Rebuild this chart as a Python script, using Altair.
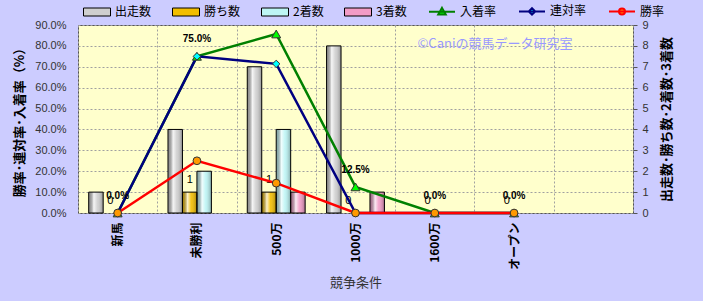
import altair as alt
import pandas as pd

# ---------------- data ----------------
categories = ["新馬", "未勝利", "500万", "1000万", "1600万", "オープン"]
x_domain = categories + [" "]
bar_series = ["出走数", "勝ち数", "2着数", "3着数"]
line_series = ["入着率", "連対率", "勝率"]
runs = [1, 4, 7, 8, 0, 0]
wins = [0, 1, 1, 0, 0, 0]
seconds = [0, 2, 4, 0, 0, 0]
thirds = [0, 0, 1, 1, 0, 0]
place_rate = [0.0, 0.75, 0.857, 0.125, 0.0, 0.0]
quinella_rate = [0.0, 0.75, 0.714, 0.0, 0.0, 0.0]
win_rate = [0.0, 0.25, 0.143, 0.0, 0.0, 0.0]
place_labels = ["0.0%", "75.0%", "", "12.5%", "0.0%", "0.0%"]
win_labels = ["0", "1", "1", "0", "0", "0"]
left_ticks = [0.0, 0.1, 0.2, 0.3, 0.4, 0.5, 0.6, 0.7, 0.8, 0.9]
right_ticks = [0, 1, 2, 3, 4, 5, 6, 7, 8, 9]
watermark = ["©Caniの競馬データ研究室"]

bars_df = pd.DataFrame(
    [{"category": c, "series": s, "count": v}
     for s, vals in zip(bar_series, [runs, wins, seconds, thirds])
     for c, v in zip(categories, vals)]
)
rates_df = pd.DataFrame(
    [{"category": c, "series": s, "rate": v}
     for s, vals in zip(line_series, [place_rate, quinella_rate, win_rate])
     for c, v in zip(categories, vals)]
)
place_lab_df = pd.DataFrame({"category": categories, "rate": place_rate, "label": place_labels})
win_lab_df = pd.DataFrame({"category": categories, "series": "勝ち数", "count": wins, "label": win_labels})
wm_df = pd.DataFrame({"t": watermark})

# ---------------- styles ----------------
FONT = "Liberation Sans, Noto Sans CJK JP"
JFONT = "Noto Sans CJK JP"
bar_fill = ["#CFCFCF", "#F2BE00", "#BDF5F5", "#F29CC6"]
line_colors = ["#008000", "#000080", "#FF0000"]
marker_fill = ["#00FF00", "#00FFFF", "#FF9900"]
marker_shape = ["triangle-up", "diamond", "circle"]
marker_size = [80, 55, 60]

rect_p = "M-2.7,-0.8H2.7V0.8H-2.7Z"
tri_p = "M-2.6,0H2.6M0,-0.75L0.75,0.55L-0.75,0.55Z"
dia_p = "M-2.6,0H2.6M0,-0.65L0.65,0L0,0.65L-0.65,0Z"
cir_p = "M-2.6,0H2.6M-0.6,0A0.6,0.6,0,1,0,0.6,0A0.6,0.6,0,1,0,-0.6,0Z"

shape_expr = ("datum.value === '入着率' ? '%s' : datum.value === '連対率' ? '%s' : "
              "datum.value === '勝率' ? '%s' : '%s'" % (tri_p, dia_p, cir_p, rect_p))
stroke_expr = ("datum.value === '入着率' ? '%s' : datum.value === '連対率' ? '%s' : "
               "datum.value === '勝率' ? '%s' : '#000000'" % tuple(line_colors))
sw_expr = "indexof(['入着率','連対率','勝率'], datum.value) >= 0 ? 2 : 1"

legend_def = alt.Legend(
    orient="none", legendX=13, legendY=-20, direction="horizontal", columns=7,
    title=None, symbolSize=100, labelOffset=12, columnPadding=18, padding=0,
    labelFontSize=12, labelFont=JFONT, labelColor="#000000",
    symbolType=alt.ExprRef(expr=shape_expr),
    symbolStrokeColor=alt.ExprRef(expr=stroke_expr),
    symbolStrokeWidth=alt.ExprRef(expr=sw_expr),
    symbolOpacity=1,
)

x_axis = alt.Axis(
    title="競争条件", titleFont=JFONT, titleFontSize=13, titleFontWeight="normal",
    titleColor="#333333", titlePadding=6,
    labelAngle=270, labelFont=JFONT, labelFontSize=12, labelFontWeight="bold",
    labelColor="#000000", labelPadding=9, ticks=False, domain=False,
    grid=True, gridColor="#A0A0A0", gridDash=[2, 2], tickBand="extent",
)
left_axis = alt.Axis(
    orient="left", values=left_ticks, format=".1%", grid=True, gridColor="#A0A0A0",
    gridDash=[2, 2], ticks=False, domain=False, labelPadding=12, labelFont=FONT,
    labelFontSize=11, labelColor="#333333",
    title="勝率･連対率･入着率（%）", titleFont=JFONT, titleFontSize=13,
    titleFontWeight="bold", titleColor="#000000", titlePadding=8,
)
right_axis = alt.Axis(
    orient="right", values=right_ticks, format="d", grid=False, ticks=True, tickSize=4,
    tickColor="#555555", domain=False, labelPadding=5, labelFont=FONT, labelFontSize=11,
    labelColor="#333333",
    title="出走数･勝ち数･2着数･3着数", titleFont=JFONT, titleFontSize=13,
    titleFontWeight="bold", titleColor="#000000", titlePadding=25, titleAngle=270,
)

x_enc = alt.X("category:N", sort=x_domain,
              scale=alt.Scale(domain=x_domain, paddingInner=0, paddingOuter=0), axis=x_axis)
xoff = alt.XOffset("series:N", sort=bar_series,
                   scale=alt.Scale(domain=bar_series, paddingInner=0, paddingOuter=0.74))
y_count = alt.Y("count:Q", scale=alt.Scale(domain=[0, 9], nice=False), axis=right_axis)
y_rate = alt.Y("rate:Q", scale=alt.Scale(domain=[0, 0.9], nice=False), axis=left_axis)

# ---------------- bars ----------------
bars = alt.Chart(bars_df).mark_bar().encode(
    x=x_enc, xOffset=xoff, y=y_count,
    fill=alt.Fill("series:N", scale=alt.Scale(domain=bar_series + line_series,
                                             range=bar_fill + marker_fill), legend=legend_def),
)
shine = alt.Chart(bars_df).transform_filter(alt.datum.count > 0).mark_bar(
    stroke="#000000", strokeWidth=1,
    color={"gradient": "linear", "x1": 0, "y1": 0, "x2": 1, "y2": 0, "stops": [
        {"offset": 0, "color": "rgba(0,0,0,0.28)"},
        {"offset": 0.35, "color": "rgba(255,255,255,0.8)"},
        {"offset": 0.6, "color": "rgba(255,255,255,0.1)"},
        {"offset": 1, "color": "rgba(0,0,0,0.3)"},
    ]}
).encode(x=x_enc, xOffset=xoff, y=y_count)
win_text = alt.Chart(win_lab_df).mark_text(dy=-12, fontSize=11, font=FONT, color="#000000").encode(
    x=x_enc, xOffset=xoff, y=y_count, text="label:N"
)
bars_group = alt.layer(bars, shine, win_text)

# ---------------- lines ----------------
line_layers = []
point_layers = []
for s, lc, mf, ms, sz in zip(line_series, line_colors, marker_fill, marker_shape, marker_size):
    base = alt.Chart(rates_df).transform_filter(alt.datum.series == s)
    line_layers.append(base.mark_line(color=lc, strokeWidth=2.5).encode(x=x_enc, y=y_rate))
    point_layers.append(base.mark_point(shape=ms, filled=True, fill=mf, stroke="#333333",
                                        strokeWidth=1, size=sz, opacity=1).encode(x=x_enc, y=y_rate))

place_text = alt.Chart(place_lab_df).mark_text(
    dy=-17, fontSize=10, font=FONT, fontWeight="bold", color="#000000"
).encode(x=x_enc, y=y_rate, text="label:N")

wm = alt.Chart(wm_df).mark_text(font=JFONT, fontSize=13, color="#9999FF", align="center").encode(
    x=alt.value(417), y=alt.value(19), text="t:N"
)
rates_group = alt.layer(*line_layers, *point_layers, place_text, wm)

chart = alt.layer(bars_group, rates_group).resolve_scale(y="independent").properties(
    width=555, height=188,
    autosize=alt.AutoSizeParams(type="none"),
    padding={"left": 78, "top": 25, "right": 70, "bottom": 88},
    background="#CCCCFF",
).configure_view(fill="#FFFFCC", stroke="#555555", strokeWidth=1)

chart.save("out.html", embed_options={"renderer": "svg", "actions": False})
